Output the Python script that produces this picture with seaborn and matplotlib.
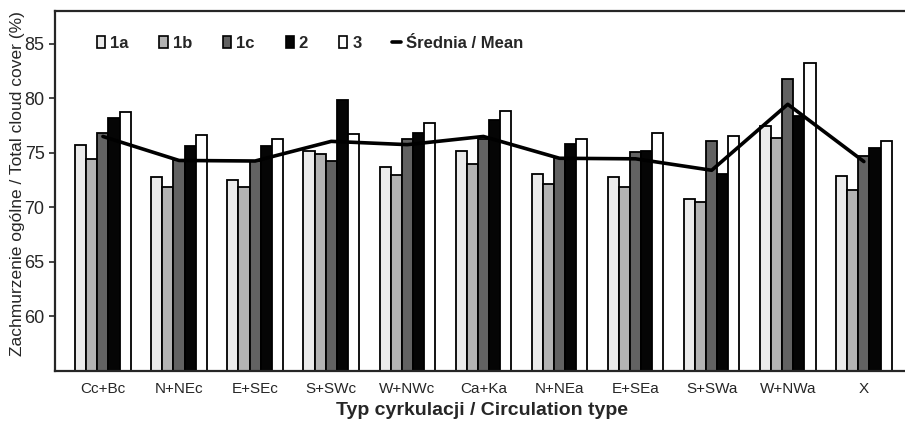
import numpy as np
import pandas as pd
import matplotlib
matplotlib.use("Agg")
import matplotlib.pyplot as plt
import seaborn as sns
from matplotlib.patches import Patch
from matplotlib.lines import Line2D

categories = ["Cc+Bc", "N+NEc", "E+SEc", "S+SWc", "W+NWc", "Ca+Ka",
              "N+NEa", "E+SEa", "S+SWa", "W+NWa", "X"]
series_names = ["1a", "1b", "1c", "2", "3"]
v_1a = [75.7, 72.8, 72.5, 75.15, 73.7, 75.15, 73.05, 72.75, 70.75, 77.5, 72.85]
v_1b = [74.45, 71.85, 71.85, 74.9, 73.0, 74.0, 72.1, 71.85, 70.45, 76.35, 71.6]
v_1c = [76.8, 74.3, 74.25, 74.25, 76.3, 76.3, 74.5, 75.1, 76.1, 81.8, 74.7]
v_2 = [78.2, 75.6, 75.6, 79.85, 76.8, 78.0, 75.85, 75.2, 73.05, 78.4, 75.4]
v_3 = [78.7, 76.6, 76.3, 76.75, 77.7, 78.85, 76.25, 76.8, 76.55, 83.2, 76.1]
mean_vals = [76.5, 74.3, 74.25, 76.05, 75.75, 76.5, 74.5, 74.45, 73.4, 79.45, 74.2]

colors = ["#ebebeb", "#b3b3b3", "#626262", "#050505", "#ffffff"]

df = pd.DataFrame({
    "cat": np.tile(categories, 5),
    "series": np.repeat(series_names, len(categories)),
    "value": v_1a + v_1b + v_1c + v_2 + v_3,
})

sns.set_style("ticks")
plt.rcParams["font.family"] = ["Liberation Sans", "DejaVu Sans"]

fig = plt.figure(figsize=(9.05, 4.25), dpi=100)
ax = fig.add_axes([55 / 905, 54 / 425, 853 / 905, 360 / 425])

sns.barplot(data=df, x="cat", y="value", hue="series", order=categories,
            hue_order=series_names, palette=colors, width=0.73, gap=0,
            edgecolor="black", linewidth=1.3, ax=ax, legend=False)
sns.lineplot(x=np.arange(len(categories)), y=mean_vals, color="black",
             linewidth=2.6, ax=ax)

ax.set_ylim(55, 88)
ax.set_xlim(-0.63, 10.58)
ax.set_yticks([60, 65, 70, 75, 80, 85])
ax.tick_params(axis="y", direction="out", length=4, width=1.2, labelsize=13,
               right=True)
ax.tick_params(axis="x", length=0, labelsize=11, pad=8)
for s in ax.spines.values():
    s.set_linewidth(1.6)

ax.set_xlabel("Typ cyrkulacji / Circulation type", fontsize=14,
              fontweight="bold", labelpad=4)
ax.set_ylabel("Zachmurzenie ogólne / Total cloud cover (%)", fontsize=12.5)
ax.yaxis.set_label_coords(-0.035, 0.52)

handles = [Patch(facecolor=c, edgecolor="black", linewidth=1.2) for c in colors]
handles.append(Line2D([0], [0], color="black", linewidth=2.6))
labels = series_names + ["Średnia / Mean"]
leg = ax.legend(handles, labels, ncol=6, frameon=False, loc="center left",
                bbox_to_anchor=(0.041, 0.91), borderaxespad=0, fontsize=12,
                handlelength=0.5, handleheight=0.65, handletextpad=0.3,
                columnspacing=1.85)
for t in leg.get_texts():
    t.set_fontweight("bold")

fig.savefig("out.png", dpi=100)
